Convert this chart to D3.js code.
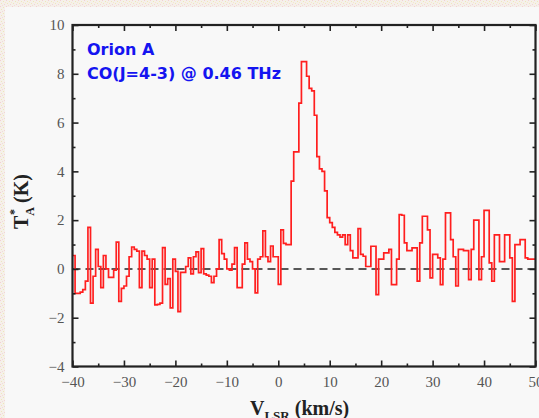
<!DOCTYPE html>
<html>
<head>
<meta charset="utf-8">
<script src="https://cdn.jsdelivr.net/npm/d3@7"></script>
<style>
  html, body { margin: 0; padding: 0; background: #f4efe9; }
  svg { display: block; }
</style>
</head>
<body>
<div id="chart"></div>
<script>
// Orion A, CO(J=4-3) spectrum, T_A* (K) per 0.5 km/s channel from -40 km/s
var chanStart = -40;
var chanWidth = 0.5;
var tA = [
  0.55, -1.0, -1.0, -0.95, -0.85, -0.5, 1.7, -1.4, -0.3, 0.8,
  0.1, -0.77, 0.55, 0.0, -0.35, -0.35, -0.05, 1.1, -1.33, -0.8,
  -0.7, -0.3, 0.5, 0.9, 0.8, 0.73, -0.77, 0.73, 0.55, 0.4,
  -0.77, 0.4, -1.47, -1.45, -1.4, 0.87, -0.63, -0.4, -1.6, 0.4,
  -0.1, -1.75, -0.14, -0.14, 0.1, 0.45, -0.2, 0.5, 0.7, -0.15,
  0.83, -0.2, -0.25, -0.3, -0.56, -0.3, 0.0, 1.2, 0.63, 0.4,
  0.0, -0.05, 0.2, 0.87, -0.77, -0.77, 0.2, 1.07, 0.4, 0.3,
  0.0, -0.98, 0.4, 0.5, 1.56, 0.5, 0.3, 0.94, 0.5, 0.5,
  -0.63, 1.6, 1.05, 1.0, 1.0, 3.6, 4.8, 4.8, 6.8, 8.5,
  8.5, 7.9, 7.4, 7.3, 6.3, 4.6, 4.1, 4.0, 3.2, 2.1,
  1.9, 1.7, 1.5, 1.4, 1.3, 1.4, 1.0, 1.4, 0.75, 0.45,
  0.45, 1.65, 0.6, 0.52, 0.1, 0.1, 0.93, 0.93, -1.05, 0.4,
  0.4, 0.66, 0.66, 0.8, -0.64, -0.64, 0.4, 2.23, 2.2, 1.07,
  0.75, 0.75, 0.86, 0.86, -0.5, 1.07, 2.16, 2.16, 1.6, -0.37,
  0.6, 0.6, 0.45, -0.64, 0.4, 2.3, 2.3, 1.2, 0.5, -0.7,
  0.8, 0.8, 0.75, 0.75, -0.44, 0.8, 2.0, 2.0, -0.44, 0.5,
  2.4, 2.4, 0.25, -0.5, 1.4, 1.4, 0.3, 0.3, 1.4, 1.4,
  0.45, -1.33, 1.0, 1.0, 1.2, 1.2, 0.45, 0.4, 0.4, 0.4
];

// axis ticks
var xDomain = [-40, 50];
var yDomain = [-4, 10];
var xMajor = [-40, -30, -20, -10, 0, 10, 20, 30, 40, 50];
var xMinor = [-35, -25, -15, -5, 5, 15, 25, 35, 45];
var yMajor = [-4, -2, 0, 2, 4, 6, 8, 10];
var yMinor = [-3, -1, 1, 3, 5, 7, 9];

// labels
var sourceName = "Orion A";
var lineName = "CO(J=4-3) @ 0.46 THz";

var width = 539;
var height = 418;
var plotLeft = 72.5, plotRight = 535.5, plotTop = 25, plotBottom = 366.5;

var svg = d3.select('#chart')
    .append("svg")
    .attr("width", width)
    .attr("height", height);

// speckled outer background
var defs = svg.append("defs");
var pat = defs.append("pattern")
    .attr("id", "speckle")
    .attr("width", 6)
    .attr("height", 6)
    .attr("patternUnits", "userSpaceOnUse");
pat.append("rect").attr("width", 6).attr("height", 6).attr("fill", "#f5f0ea");
[[0, 0, "#f3cfd3"], [3, 1, "#efe8b8"], [1, 3, "#efe6bf"], [4, 4, "#f2d3d7"], [5, 2, "#f6e9c9"], [2, 5, "#f1dcd8"]]
    .forEach(function (p) {
        pat.append("rect").attr("x", p[0]).attr("y", p[1]).attr("width", 1).attr("height", 1).attr("fill", p[2]);
    });

svg.append("rect")
    .attr("width", width)
    .attr("height", height)
    .attr("fill", "url(#speckle)");

// light panel
svg.append("rect")
    .attr("x", 5)
    .attr("y", 7)
    .attr("width", width - 5)
    .attr("height", height - 7)
    .attr("fill", "#f8f8f8");

var xScale = d3.scaleLinear().domain(xDomain).range([plotLeft, plotRight]);
var yScale = d3.scaleLinear().domain(yDomain).range([plotBottom, plotTop]);

// zero line
svg.append("line")
    .attr("x1", xScale(xDomain[0]))
    .attr("x2", xScale(xDomain[1]))
    .attr("y1", yScale(0))
    .attr("y2", yScale(0))
    .attr("stroke", "#222")
    .attr("stroke-width", 1.4)
    .attr("stroke-dasharray", "8,5");

// spectrum as histogram steps
var pts = tA.map(function (d, i) { return [chanStart + i * chanWidth, d]; });
pts.push([chanStart + tA.length * chanWidth, tA[tA.length - 1]]);

svg.append("path")
    .datum(pts)
    .attr("fill", "none")
    .attr("stroke", "#ff1f1f")
    .attr("stroke-width", 1.7)
    .attr("stroke-linejoin", "miter")
    .attr("d", d3.line()
        .curve(d3.curveStepAfter)
        .x(function (d) { return xScale(d[0]); })
        .y(function (d) { return yScale(d[1]); }));

// axes (ticks point inward on all four sides)
function styleAxis(g) {
    g.select(".domain").remove();
    g.selectAll(".tick line").attr("stroke", "#222").attr("stroke-width", 1.6);
    g.selectAll(".tick text")
        .style("font-family", "'Liberation Serif', 'Times New Roman', serif")
        .style("font-size", "15px")
        .attr("fill", "#555");
}

svg.append("g")
    .attr("transform", `translate(0, ${plotBottom})`)
    .call(d3.axisBottom(xScale).tickValues(xMajor).tickSize(-6).tickPadding(10))
    .call(styleAxis);
svg.append("g")
    .attr("transform", `translate(0, ${plotBottom})`)
    .call(d3.axisBottom(xScale).tickValues(xMinor).tickSize(-3).tickFormat(""))
    .call(styleAxis);
svg.append("g")
    .attr("transform", `translate(0, ${plotTop})`)
    .call(d3.axisTop(xScale).tickValues(xMajor).tickSize(-6).tickFormat(""))
    .call(styleAxis);
svg.append("g")
    .attr("transform", `translate(0, ${plotTop})`)
    .call(d3.axisTop(xScale).tickValues(xMinor).tickSize(-3).tickFormat(""))
    .call(styleAxis);

svg.append("g")
    .attr("transform", `translate(${plotLeft}, 0)`)
    .call(d3.axisLeft(yScale).tickValues(yMajor).tickSize(-6).tickPadding(8))
    .call(styleAxis);
svg.append("g")
    .attr("transform", `translate(${plotLeft}, 0)`)
    .call(d3.axisLeft(yScale).tickValues(yMinor).tickSize(-3).tickFormat(""))
    .call(styleAxis);
svg.append("g")
    .attr("transform", `translate(${plotRight}, 0)`)
    .call(d3.axisRight(yScale).tickValues(yMajor).tickSize(-6).tickFormat(""))
    .call(styleAxis);
svg.append("g")
    .attr("transform", `translate(${plotRight}, 0)`)
    .call(d3.axisRight(yScale).tickValues(yMinor).tickSize(-3).tickFormat(""))
    .call(styleAxis);

// frame
svg.append("rect")
    .attr("x", plotLeft)
    .attr("y", plotTop)
    .attr("width", plotRight - plotLeft)
    .attr("height", plotBottom - plotTop)
    .attr("fill", "none")
    .attr("stroke", "#222")
    .attr("stroke-width", 2.2);

// annotation
var note = svg.append("g")
    .style("font-family", "'DejaVu Sans', Verdana, sans-serif")
    .style("font-weight", "bold")
    .style("font-size", "16px")
    .attr("fill", "#1414f0");
note.append("text").attr("x", 87).attr("y", 55).text(sourceName);
note.append("text").attr("x", 87).attr("y", 79).text(lineName);

// x axis title
var xt = svg.append("text")
    .attr("x", 250)
    .attr("y", 415)
    .style("font-family", "'Liberation Serif', 'Times New Roman', serif")
    .style("font-weight", "bold")
    .style("font-size", "20px")
    .attr("fill", "#222");
xt.append("tspan").text("V");
xt.append("tspan").attr("dy", 5).style("font-size", "13px").text("LSR");
xt.append("tspan").attr("dy", -5).text(" (km/s)");

// y axis title
var yt = svg.append("text")
    .attr("transform", "translate(28, 229) rotate(-90)")
    .style("font-family", "'Liberation Serif', 'Times New Roman', serif")
    .style("font-weight", "bold")
    .style("font-size", "20px")
    .attr("fill", "#222");
yt.append("tspan").text("T");
yt.append("tspan").attr("dy", 6).style("font-size", "12px").text("A");
yt.append("tspan").attr("dx", -8).attr("dy", -16).style("font-size", "12px").text("*");
yt.append("tspan").attr("dx", 6).attr("dy", 10).text("(K)");
</script>
</body>
</html>
